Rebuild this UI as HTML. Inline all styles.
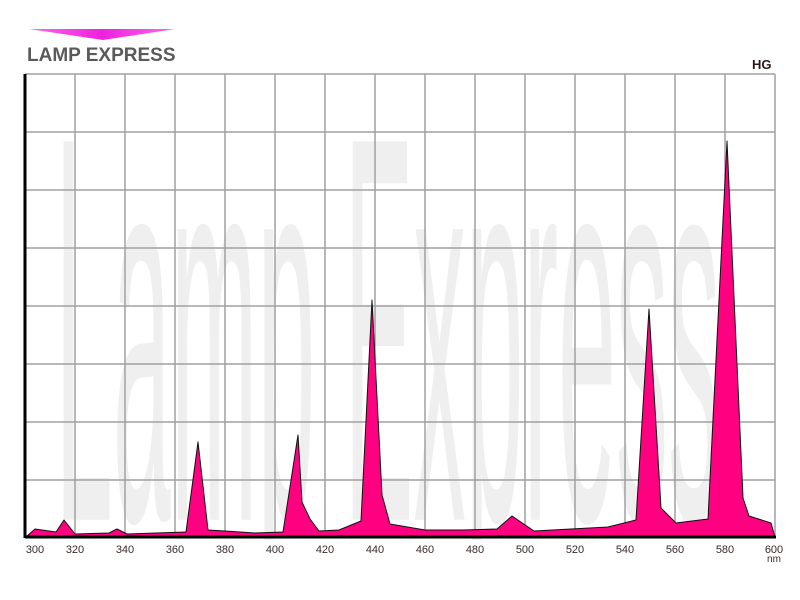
<!DOCTYPE html>
<html><head><meta charset="utf-8"><style>
html,body{margin:0;padding:0;background:#fff;overflow:hidden;}
svg{display:block;}
text{font-family:"Liberation Sans",Arial,sans-serif;}
</style></head><body>
<svg width="800" height="600" viewBox="0 0 800 600" xmlns="http://www.w3.org/2000/svg">
<defs>
<linearGradient id="g" x1="0" x2="1" y1="0" y2="0">
<stop offset="0" stop-color="#ff66ee"/><stop offset="0.5" stop-color="#ee22dd"/><stop offset="1" stop-color="#ff66ee"/>
</linearGradient>
<clipPath id="c"><rect x="0" y="0" width="800" height="540"/></clipPath>
</defs>
<polygon points="29,29 175,29 103,40" fill="url(#g)"/>
<text x="27" y="61" font-size="19" font-weight="bold" fill="#5a5a5a">LAMP EXPRESS</text>
<text x="752" y="69" font-size="13" font-weight="bold" fill="#2a1a1a">HG</text>
<g clip-path="url(#c)">
<g transform="scale(1,5.5)">
<text x="55" y="94.5" font-size="100" fill="#efefef" textLength="665" lengthAdjust="spacingAndGlyphs">Lamp Express</text>
</g>
</g>
<g stroke="#a0a0a0" stroke-width="1.5" fill="none">
<path d="M25,74H775M25,132H775M25,190H775M25,248H775M25,306H775M25,364H775M25,422H775M25,480H775"/>
<path d="M75,74V537M125,74V537M175,74V537M225,74V537M275,74V537M325,74V537M375,74V537M425,74V537M475,74V537M525,74V537M575,74V537M625,74V537M675,74V537M725,74V537M775,74V537"/>
</g>
<polygon fill="#ff0080" stroke="#111" stroke-width="1" stroke-linejoin="round" points="27,536 35,529 56,532 64,520 75,534 109,533 117,529 127,534 186,532 198,442 208,530 225,531 255,533 283,532 298,435 302,502 310,519 319,531 339,530 361,521 372,300 382,495 390,524 425,530 463,530 497,529 512,516 534,531 608,527 636,520 649,309 661,508 676,523 708,519 727,141 743,498 749,516 771,523 775,537 27,537"/>
<path d="M25,537H776" stroke="#000" stroke-width="3"/>
<path d="M25,74V538" stroke="#000" stroke-width="3"/>
<g font-size="11" fill="#3a2a2a" text-anchor="middle">
<text x="35" y="553">300</text><text x="75" y="553">320</text><text x="125" y="553">340</text><text x="175" y="553">360</text><text x="225" y="553">380</text><text x="275" y="553">400</text><text x="325" y="553">420</text><text x="375" y="553">440</text><text x="425" y="553">460</text><text x="475" y="553">480</text><text x="525" y="553">500</text><text x="575" y="553">520</text><text x="625" y="553">540</text><text x="675" y="553">560</text><text x="725" y="553">580</text><text x="774" y="553">600</text>
<text x="774" y="562" font-size="10">nm</text>
</g>
</svg>
</body></html>
